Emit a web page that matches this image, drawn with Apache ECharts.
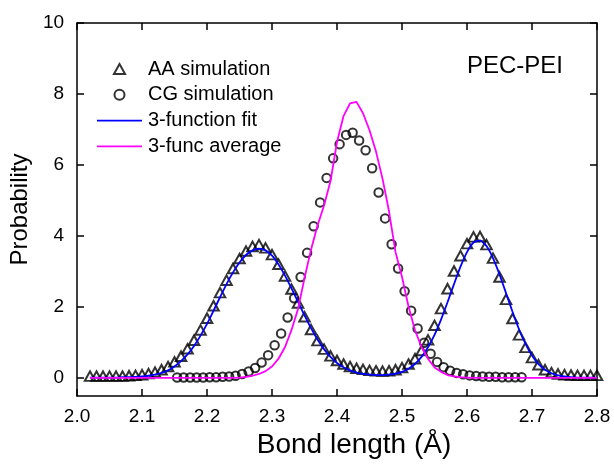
<!DOCTYPE html>
<html><head><meta charset="utf-8">
<script src="https://cdn.jsdelivr.net/npm/echarts@6/dist/echarts.min.js"></script>
<style>html,body{margin:0;padding:0;background:#fff}#c{width:614px;height:465px}</style>
</head><body><div id="c"></div>
<script>
// Bond length grid (Å) for the AA simulation and both fitted curves
const aaX = [2.02,2.03,2.04,2.05,2.06,2.07,2.08,2.09,2.10,2.11,2.12,2.13,2.14,2.15,2.16,2.17,2.18,2.19,2.20,
  2.21,2.22,2.23,2.24,2.25,2.26,2.27,2.28,2.29,2.30,2.31,2.32,2.33,2.34,2.35,2.36,2.37,2.38,2.39,2.40,
  2.41,2.42,2.43,2.44,2.45,2.46,2.47,2.48,2.49,2.50,2.51,2.52,2.53,2.54,2.55,2.56,2.57,2.58,2.59,2.60,
  2.61,2.62,2.63,2.64,2.65,2.66,2.67,2.68,2.69,2.70,2.71,2.72,2.73,2.74,2.75,2.76,2.77,2.78,2.79,2.80];
const aaY = [0.06,0.06,0.06,0.06,0.06,0.06,0.07,0.08,0.10,0.13,0.17,0.24,0.33,0.46,0.62,0.83,1.07,1.36,1.69,
  2.04,2.41,2.76,3.09,3.37,3.58,3.71,3.76,3.67,3.48,3.21,2.88,2.51,2.12,1.73,1.37,1.06,0.82,0.63,0.50,
  0.40,0.33,0.28,0.25,0.22,0.21,0.20,0.21,0.24,0.30,0.40,0.55,0.78,1.08,1.49,1.96,2.52,3.02,3.45,3.79,
  3.98,3.99,3.76,3.38,2.85,2.22,1.68,1.22,0.87,0.58,0.38,0.24,0.16,0.12,0.10,0.09,0.08,0.08,0.08,0.08];
const fitY = [0.02,0.02,0.02,0.02,0.02,0.03,0.03,0.04,0.05,0.07,0.10,0.15,0.22,0.33,0.48,0.67,0.91,1.20,1.53,
  1.90,2.28,2.65,2.98,3.26,3.47,3.60,3.65,3.60,3.45,3.20,2.89,2.53,2.15,1.77,1.41,1.09,0.82,0.60,0.43,
  0.31,0.22,0.16,0.12,0.10,0.09,0.09,0.10,0.13,0.18,0.27,0.40,0.60,0.87,1.22,1.65,2.14,2.65,3.14,3.55,
  3.82,3.88,3.72,3.38,2.92,2.40,1.87,1.38,0.97,0.64,0.40,0.24,0.14,0.08,0.05,0.03,0.02,0.02,0.02,0.02];
const avgY = [0.01,0.01,0.01,0.01,0.01,0.01,0.01,0.01,0.01,0.01,0.01,0.01,0.01,0.01,0.01,0.01,0.01,0.01,0.01,
  0.01,0.01,0.01,0.01,0.02,0.04,0.07,0.12,0.20,0.33,0.55,0.88,1.36,1.95,2.82,3.62,4.30,4.86,5.55,6.65,
  7.38,7.74,7.78,7.46,6.98,6.38,5.62,4.70,3.55,2.85,2.02,1.35,0.88,0.55,0.30,0.18,0.09,0.05,0.03,0.02,
  0.01,0.01,0.01,0.01,0.01,0.01,0.01,0.01,0.01,0.01,0.01,0.01,0.01,0.01,0.01,0.01,0.01,0.01,0.01,0.01];
// CG simulation
const cgX = [2.154,2.164,2.174,2.184,2.194,2.204,2.214,2.224,2.234,2.244,2.254,2.264,2.274,2.284,2.294,2.304,
  2.314,2.324,2.334,2.344,2.354,2.364,2.374,2.384,2.394,2.404,2.414,2.424,2.434,2.444,2.454,2.464,2.474,
  2.484,2.494,2.504,2.514,2.524,2.534,2.544,2.554,2.564,2.574,2.584,2.594,2.604,2.614,2.624,2.634,2.644,
  2.654,2.664,2.674,2.684];
const cgY = [0.02,0.02,0.02,0.02,0.02,0.03,0.03,0.04,0.05,0.07,0.12,0.19,0.29,0.44,0.65,0.93,
  1.26,1.71,2.25,2.85,3.53,4.28,4.95,5.64,6.19,6.59,6.85,6.91,6.69,6.42,5.91,5.23,4.50,
  3.77,3.09,2.45,1.90,1.40,1.00,0.69,0.46,0.31,0.21,0.15,0.11,0.08,0.06,0.05,0.04,0.04,
  0.03,0.03,0.03,0.03];
const yTicks = [0,2,4,6,8,10];
const xTicksLabel = v => v.toFixed(1);

const FONT = '"Liberation Sans", Arial, Helvetica, sans-serif';
const zip = (xs, ys) => xs.map((x, i) => [x, ys[i]]);
const chart = echarts.init(document.getElementById('c'), null, {renderer: 'canvas'});
const lineAxis = {color: '#000', width: 1.5};
const triIcon = 'path://M5,0 L10,9 L0,9 Z';
const lineIcon = 'path://M0,0 L45,0 L45,1.8 L0,1.8 Z';
const option = {
  animation: false,
  backgroundColor: '#fff',
  title: {text: 'PEC-PEI', left: 467, top: 54, padding: 0,
    textStyle: {fontFamily: FONT, fontSize: 24, fontWeight: 'normal', color: '#000'}},
  legend: {
    left: 92, top: 54, orient: 'vertical', itemWidth: 45, itemHeight: 10, itemGap: 5.8,
    selectedMode: false, symbolKeepAspect: true,
    textStyle: {fontFamily: FONT, fontSize: 20, color: '#000', lineHeight: 20, padding: [0, 0, 0, 1]},
    data: [
      {name: 'AA simulation', icon: triIcon},
      {name: 'CG simulation', icon: 'circle'},
      {name: '3-function fit', icon: lineIcon},
      {name: '3-func average', icon: lineIcon}
    ]
  },
  grid: {left: 77, right: 17, top: 23, bottom: 69, containLabel: false},
  xAxis: [{
    type: 'value', position: 'bottom', min: 2.0, max: 2.8, interval: 0.1,
    name: 'Bond length (Å)', nameLocation: 'middle', nameGap: 31,
    nameTextStyle: {fontFamily: FONT, fontSize: 28, color: '#000', padding: [0, 0, 0, 34]},
    axisLine: {show: true, onZero: false, lineStyle: lineAxis},
    axisTick: {show: true, inside: true, length: 7, lineStyle: lineAxis},
    axisLabel: {margin: 11, fontFamily: FONT, fontSize: 19, color: '#000', formatter: xTicksLabel},
    splitLine: {show: false}
  }, {
    type: 'value', position: 'top', min: 2.0, max: 2.8, interval: 0.1,
    axisLine: {show: true, onZero: false, lineStyle: lineAxis},
    axisTick: {show: true, inside: true, length: 7, lineStyle: lineAxis},
    axisLabel: {show: false}, splitLine: {show: false}
  }],
  yAxis: [{
    type: 'value', position: 'left', min: -0.5, max: 10,
    name: 'Probability', nameLocation: 'middle', nameGap: 42,
    nameTextStyle: {fontFamily: FONT, fontSize: 24, color: '#000'},
    axisLine: {show: true, onZero: false, lineStyle: lineAxis},
    axisTick: {show: true, inside: true, length: 7, lineStyle: lineAxis, customValues: yTicks},
    axisLabel: {margin: 13, fontFamily: FONT, fontSize: 19, color: '#000', customValues: yTicks},
    splitLine: {show: false}
  }, {
    type: 'value', position: 'right', min: -0.5, max: 10,
    axisLine: {show: true, onZero: false, lineStyle: lineAxis},
    axisTick: {show: true, inside: true, length: 7, lineStyle: lineAxis, customValues: yTicks},
    axisLabel: {show: false}, splitLine: {show: false}
  }],
  series: [
    {name: 'AA simulation', type: 'scatter', xAxisIndex: 0, yAxisIndex: 0, z: 2,
      symbol: 'triangle', symbolSize: [10.5, 9.5], data: zip(aaX, aaY),
      itemStyle: {color: 'rgba(0,0,0,0)', borderColor: '#000', borderWidth: 2}},
    {name: 'CG simulation', type: 'scatter', xAxisIndex: 0, yAxisIndex: 0, z: 2,
      symbol: 'circle', symbolSize: 8.5, data: zip(cgX, cgY),
      itemStyle: {color: 'rgba(0,0,0,0)', borderColor: '#000', borderWidth: 2}},
    {name: '3-function fit', type: 'line', xAxisIndex: 0, yAxisIndex: 0, z: 3,
      symbol: 'none', smooth: 0.2, data: zip(aaX, fitY),
      itemStyle: {color: '#0000ff'}, lineStyle: {color: '#0000ff', width: 1.8}},
    {name: '3-func average', type: 'line', xAxisIndex: 0, yAxisIndex: 0, z: 4,
      symbol: 'none', smooth: false, data: zip(aaX, avgY),
      itemStyle: {color: '#ff00ff'}, lineStyle: {color: '#ff00ff', width: 1.8}}
  ]
};
chart.setOption(option);
</script>
</body></html>
